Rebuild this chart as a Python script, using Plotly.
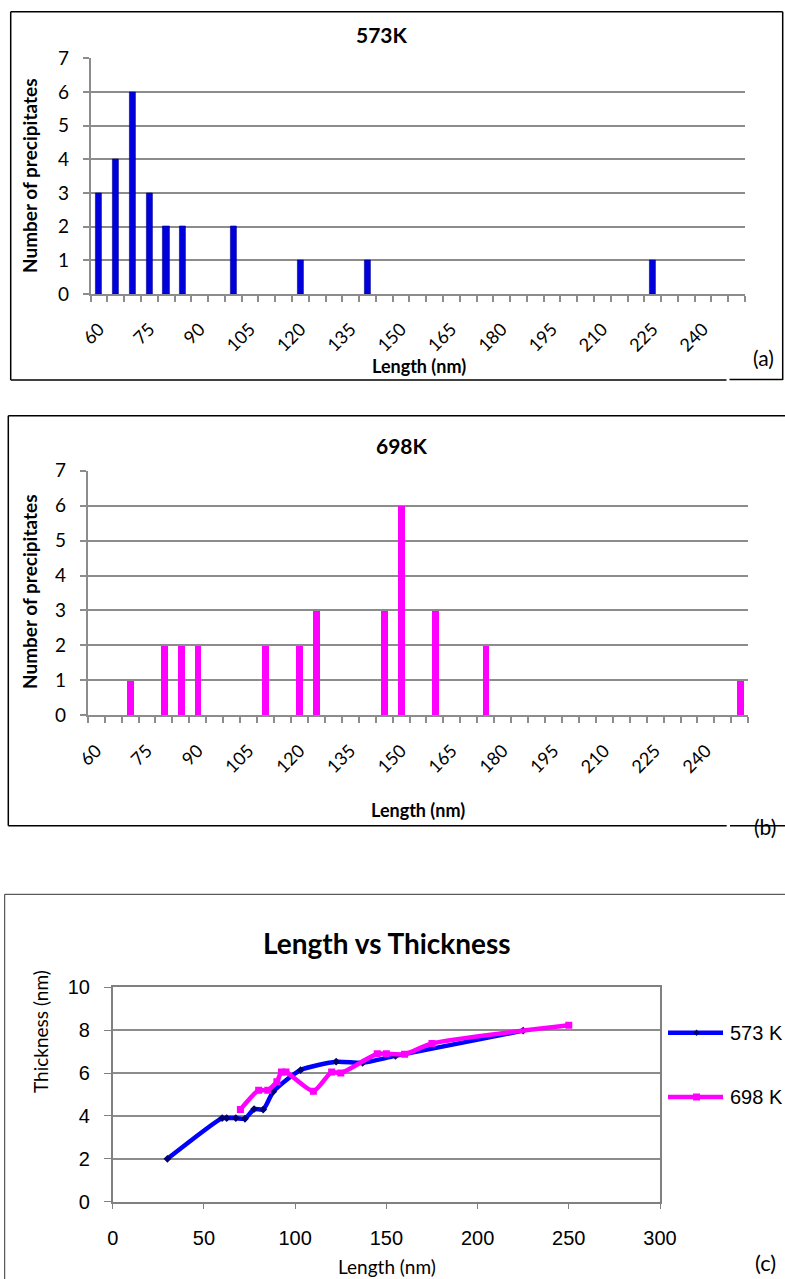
import plotly.graph_objects as go

# ---- precipitate size distributions (bin centre in nm -> count) ----
lengths_573 = [60, 65, 70, 75, 80, 85, 100, 120, 140, 225]
counts_573 = [3, 4, 6, 3, 2, 2, 2, 1, 1, 1]

lengths_698 = [70, 80, 85, 90, 110, 120, 125, 145, 150, 160, 175, 250]
counts_698 = [1, 2, 2, 2, 2, 2, 3, 3, 6, 3, 2, 1]

bin_labels = [60, 75, 90, 105, 120, 135, 150, 165, 180, 195, 210, 225, 240]

# ---- length vs thickness ----
len_573 = [30, 60, 62.5, 67.5, 72.5, 77.5, 82.5, 88, 103, 122.5, 137, 155, 225]
thk_573 = [2.0, 3.9, 3.9, 3.9, 3.87, 4.32, 4.3, 5.13, 6.14, 6.53, 6.48, 6.8, 7.98]

len_698 = [70, 80, 85, 90, 92.5, 95, 110, 120, 125, 145, 150, 160, 175, 250]
thk_698 = [4.3, 5.2, 5.2, 5.6, 6.05, 6.05, 5.15, 6.05, 6.0, 6.9, 6.9, 6.88, 7.38, 8.23]

W, H = 785, 1279
CAL = "Lato, 'Open Sans', sans-serif"
ARIAL = "'Liberation Sans', Arial, sans-serif"
GRID = "#8c8c8c"


def px(x):
    return x / W


def py(y):
    return 1 - y / H


fig = go.Figure()

# histogram bars
fig.add_trace(go.Bar(x=lengths_573, y=counts_573, width=1.8,
                     marker=dict(color="#0000dc", line=dict(color="#00008c", width=0.6)),
                     xaxis="x", yaxis="y", showlegend=False))
fig.add_trace(go.Bar(x=lengths_698, y=counts_698, width=2.0,
                     marker=dict(color="#ff00ff", line=dict(width=0)),
                     xaxis="x2", yaxis="y2", showlegend=False))

# thickness curves
fig.add_trace(go.Scatter(x=len_573, y=thk_573, mode="lines+markers", name="573 K",
                         line=dict(color="#0000ff", width=4.5, shape="spline", smoothing=0.6),
                         marker=dict(symbol="diamond", size=6, color="#000070"),
                         xaxis="x3", yaxis="y3", showlegend=False))
fig.add_trace(go.Scatter(x=len_698, y=thk_698, mode="lines+markers", name="698 K",
                         line=dict(color="#ff00ff", width=4.5, shape="spline", smoothing=0.6),
                         marker=dict(symbol="square", size=7, color="#ff00ff"),
                         xaxis="x3", yaxis="y3", showlegend=False))


def hist_xaxis(domain):
    return dict(domain=domain, range=[57.5, 252.5], tickmode="array", automargin=False,
                tickvals=bin_labels, ticktext=[str(v) for v in bin_labels],
                tickangle=-45, ticks="", ticklabelstandoff=16,
                tickfont=dict(family=CAL, size=18, color="#000"),
                showgrid=False, zeroline=False, showline=True, linecolor=GRID, linewidth=1.5,
                minor=dict(tickmode="linear", tick0=57.5, dtick=5, ticks="outside",
                           ticklen=6, tickcolor=GRID, tickwidth=1.5, showgrid=False),
                fixedrange=True)


def hist_yaxis(domain, anchor):
    return dict(domain=domain, anchor=anchor, range=[0, 7.001], dtick=1, automargin=False,
                ticks="outside", ticklen=6, tickcolor=GRID, tickwidth=1.5,
                ticklabelstandoff=10,
                tickfont=dict(family=CAL, size=19, color="#000"),
                showgrid=True, gridcolor=GRID, gridwidth=1.5, zeroline=False,
                showline=True, linecolor=GRID, linewidth=1.5)


fig.update_layout(
    width=W, height=H, margin=dict(l=0, r=0, t=0, b=0, pad=0, autoexpand=False),
    paper_bgcolor="white", plot_bgcolor="white", bargap=0,
    xaxis=dict(hist_xaxis([px(90.7), px(745)]), anchor="y"),
    yaxis=hist_yaxis([py(294), py(58.3)], "x"),
    xaxis2=dict(hist_xaxis([px(87.7), px(748.3)]), anchor="y2"),
    yaxis2=hist_yaxis([py(715.3), py(470.7)], "x2"),
    xaxis3=dict(domain=[px(112.7), px(660)], anchor="y3", range=[0, 300], dtick=50,
                automargin=False,
                ticks="outside", ticklen=6, tickcolor="#808080", ticklabelstandoff=12,
                tickfont=dict(family=ARIAL, size=20, color="#000"),
                showgrid=False, zeroline=False, showline=True, mirror=True,
                linecolor="#808080", linewidth=1.5),
    yaxis3=dict(domain=[py(1201.7), py(987.3)], anchor="x3", range=[0, 10], dtick=2,
                automargin=False,
                ticks="outside", ticklen=7, tickcolor="#808080", ticklabelstandoff=10,
                tickfont=dict(family=ARIAL, size=20, color="#000"),
                showgrid=True, gridcolor=GRID, gridwidth=1.5, zeroline=False,
                showline=True, mirror=True, linecolor="#808080", linewidth=1.5),
)

ann = []


def text(x, y, s, size, family=CAL, bold=False, angle=0, xanchor="center"):
    ann.append(dict(x=px(x), y=py(y), xref="paper", yref="paper", showarrow=False,
                    text=f"<b>{s}</b>" if bold else s, textangle=angle, xanchor=xanchor,
                    yanchor="middle", font=dict(family=family, size=size, color="#000")))


# panel (a)
text(382, 34, "573K", 21, bold=True)
text(30, 176, "Number of precipitates", 19, bold=True, angle=-90)
text(419, 366, "Length (nm)", 18, bold=True)
text(763, 357, "(a)", 21)
# panel (b)
text(402, 446, "698K", 21, bold=True)
text(30, 592, "Number of precipitates", 19, bold=True, angle=-90)
text(418, 810, "Length (nm)", 18, bold=True)
text(765, 826, "(b)", 21)
# panel (c)
text(387, 943, "Length vs Thickness", 28, bold=True)
text(40, 1032, "Thickness (nm)", 19, angle=-90)
text(387, 1266, "Length (nm)", 19)
text(765, 1262, "(c)", 22)
text(728, 1033, "573 K", 20, family=ARIAL, xanchor="left")
text(728, 1097, "698 K", 20, family=ARIAL, xanchor="left")

shapes = []


def seg(x0, y0, x1, y1, color="#000", width=1.5):
    shapes.append(dict(type="line", xref="paper", yref="paper",
                       x0=px(x0), y0=py(y0), x1=px(x1), y1=py(y1),
                       line=dict(color=color, width=width)))


# frames round the three panels
seg(10.7, 11.7, 782.7, 11.7)
seg(10.7, 11.7, 10.7, 380)
seg(782.7, 11.7, 782.7, 380)
seg(10.7, 380, 726.5, 380)
seg(729.5, 379.5, 782.7, 379.5)

seg(8.3, 415.7, 785, 415.7)
seg(8.3, 415.7, 8.3, 825.7)
seg(8.3, 825.7, 726.7, 825.7)
seg(730, 825.7, 785, 825.7)

seg(4.7, 894.3, 785, 894.3, color="#333", width=1)
seg(4.7, 894.3, 4.7, 1279, color="#333", width=1)

# legend keys for the thickness plot
seg(668, 1032.7, 723, 1032.7, color="#0000ff", width=4.5)
seg(668, 1097, 723, 1097, color="#ff00ff", width=4.5)
shapes.append(dict(type="path", xref="paper", yref="paper",
                   path=f"M {px(696.5)} {py(1029.5)} L {px(699.5)} {py(1032.7)} "
                        f"L {px(696.5)} {py(1035.9)} L {px(693.5)} {py(1032.7)} Z",
                   fillcolor="#000070", line=dict(width=0)))
shapes.append(dict(type="rect", xref="paper", yref="paper",
                   x0=px(693), y0=py(1100.5), x1=px(700), y1=py(1093.5),
                   fillcolor="#ff00ff", line=dict(width=0)))

fig.update_layout(annotations=ann, shapes=shapes)
# page body without its default margin so the figure fills the window exactly
fig.write_html("out.html", post_script="document.body.style.margin='0';")
